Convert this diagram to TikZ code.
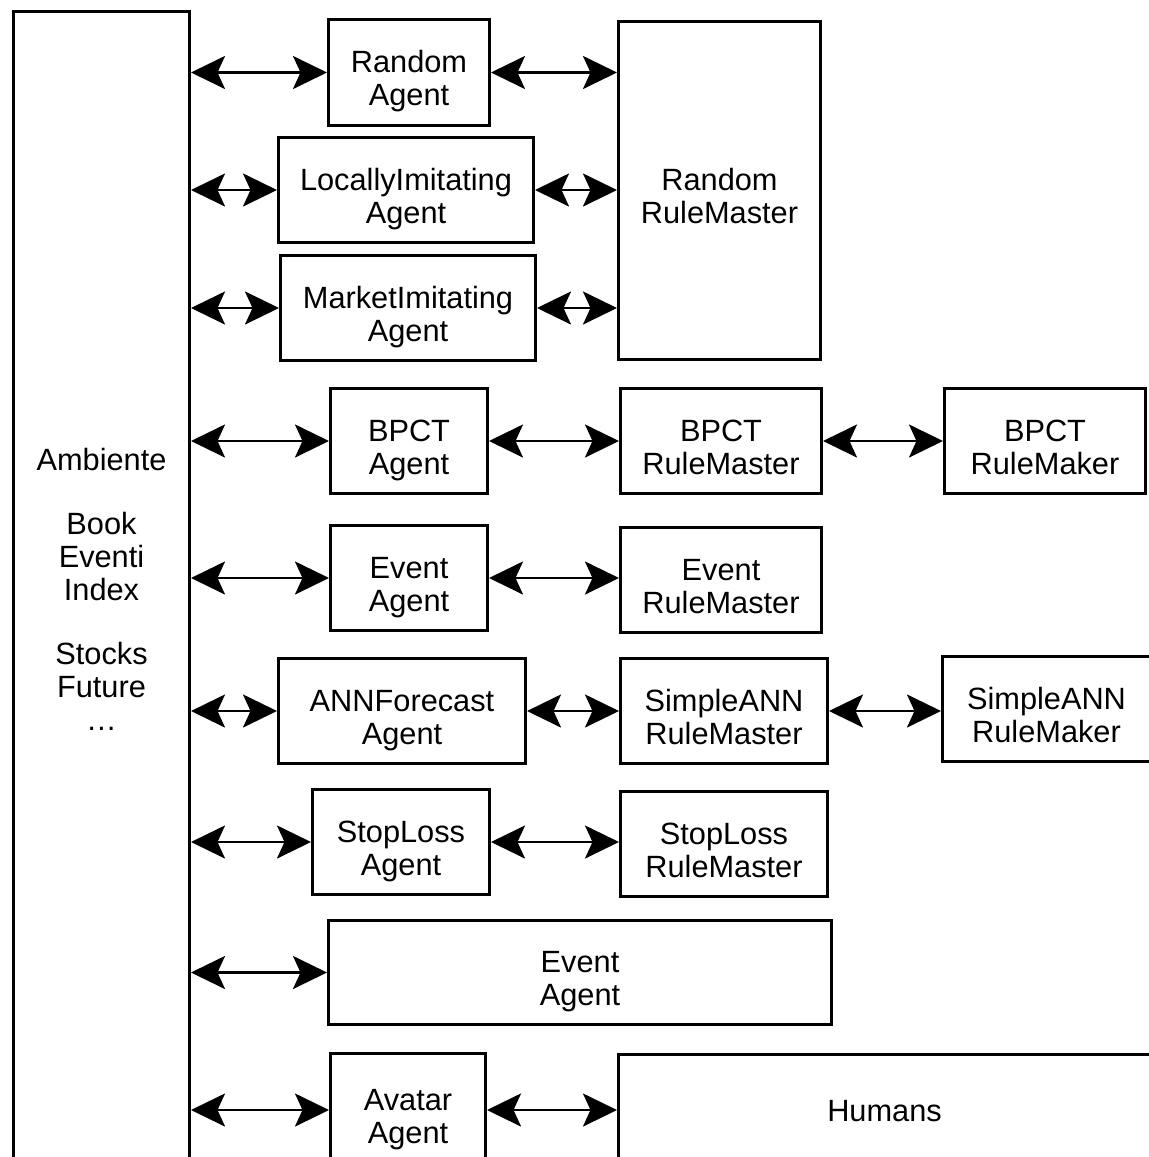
\documentclass[tikz,border=0pt]{standalone}
\usepackage{fontspec}
\setmainfont{Liberation Sans}
\usetikzlibrary{arrows.meta}
\tikzset{
  blk/.style 2 args={draw,line width=0.06cm,inner sep=0pt,align=center,
    minimum width=#1*0.02cm,minimum height=#2*0.02cm,
    font=\fontsize{17.5}{18.8}\selectfont},
  twoline/.style={text height=38pt,text depth=0pt},
  link/.style={{Stealth[length=0.68cm,width=0.66cm,inset=0.15cm]}-{Stealth[length=0.68cm,width=0.66cm,inset=0.15cm]},line width=0.055cm}
}

\begin{document}
\begin{tikzpicture}[x=0.02cm,y=-0.02cm]
    \useasboundingbox (0,0) rectangle (1149,1157);
    \clip (0,0) rectangle (1149,1157);
    \node[blk={176}{1156}] (env) at (101.5,589) {Ambiente\\[0.62cm]Book\\Eventi\\Index\\[0.62cm]Stocks\\Future\\\dots};
    \node[blk={161}{106},twoline] (ra) at (409,72.5) {Random\\Agent};
    \node[blk={202}{338},twoline] (rrm) at (719.5,190.5) {Random\\RuleMaster};
    \node[blk={255}{105},twoline] (lia) at (406,190) {LocallyImitating\\Agent};
    \node[blk={255}{105},twoline] (mia) at (408,308) {MarketImitating\\Agent};
    \node[blk={157}{105},twoline] (bpa) at (409,441) {BPCT\\Agent};
    \node[blk={201}{105},twoline] (bprm) at (721,441) {BPCT\\RuleMaster};
    \node[blk={201}{105},twoline] (bpmk) at (1045,441) {BPCT\\RuleMaker};
    \node[blk={157}{105},twoline] (eva) at (409,578) {Event\\Agent};
    \node[blk={201}{105},twoline] (evrm) at (721,580) {Event\\RuleMaster};
    \node[blk={247}{105},twoline] (anna) at (402,711) {ANNForecast\\Agent};
    \node[blk={207}{105},twoline] (annrm) at (724,711) {SimpleANN\\RuleMaster};
    \node[blk={208}{105},twoline] (annmk) at (1046.5,709) {SimpleANN\\RuleMaker};
    \node[blk={177}{105},twoline] (sla) at (401,842) {StopLoss\\Agent};
    \node[blk={207}{105},twoline] (slrm) at (724,844) {StopLoss\\RuleMaster};
    \node[blk={503}{104},twoline] (evb) at (580,972.5) {Event\\Agent};
    \node[blk={155}{113},twoline] (ava) at (408,1110) {Avatar\\Agent};
    \node[blk={532}{114}] (hum) at (884.5,1111.5) {Humans};
    \foreach \n in {ra,lia,mia,bpa,eva,anna,sla,evb,ava}
      \draw[link] (env.east |- \n.west) -- (\n.west);
    \draw[link] (ra.east) -- (ra.east -| rrm.west);
    \draw[link] (lia.east) -- (lia.east -| rrm.west);
    \draw[link] (mia.east) -- (mia.east -| rrm.west);
    \draw[link] (bpa) -- (bprm);
    \draw[link] (bprm) -- (bpmk);
    \draw[link] (eva.east) -- (eva.east -| evrm.west);
    \draw[link] (anna) -- (annrm);
    \draw[link] (annrm.east) -- (annrm.east -| annmk.west);
    \draw[link] (sla.east) -- (sla.east -| slrm.west);
    \draw[link] (ava.east) -- (ava.east -| hum.west);
  \end{tikzpicture}
\end{document}
